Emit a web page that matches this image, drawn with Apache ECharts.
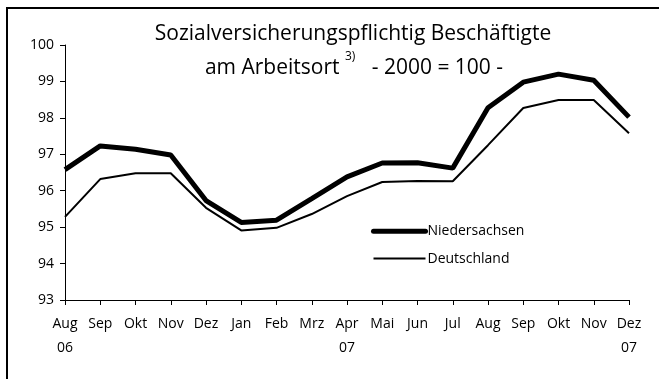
<!DOCTYPE html>
<html>
<head>
<meta charset="utf-8">
<script src="https://cdn.jsdelivr.net/npm/echarts@6/dist/echarts.min.js"></script>
<style>
  html, body { margin: 0; padding: 0; background: #fff; }
  #chart { width: 659px; height: 379px; }
</style>
</head>
<body>
<div id="chart"></div>
<script>
// Monthly index values (2000 = 100), Aug 2006 – Dec 2007
const months = ['Aug', 'Sep', 'Okt', 'Nov', 'Dez', 'Jan', 'Feb', 'Mrz', 'Apr', 'Mai', 'Jun', 'Jul', 'Aug', 'Sep', 'Okt', 'Nov', 'Dez'];
const yearLabels = ['06', '', '', '', '', '', '', '', '07', '', '', '', '', '', '', '', '07'];
const niedersachsen = [96.58, 97.23, 97.14, 96.98, 95.73, 95.13, 95.19, 95.78, 96.38, 96.76, 96.77, 96.62, 98.28, 98.98, 99.20, 99.03, 98.02];
const deutschland = [95.28, 96.32, 96.48, 96.48, 95.53, 94.91, 94.98, 95.36, 95.85, 96.24, 96.27, 96.26, 97.25, 98.27, 98.49, 98.49, 97.58];
const yTicks = { min: 93, max: 100, step: 1 };

const FONT = '"Open Sans", "Noto Sans", sans-serif';
const chart = echarts.init(document.getElementById('chart'), null, { renderer: 'canvas' });

const categories = months.map((m, i) => m + '\n' + yearLabels[i]);

chart.setOption({
  animation: false,
  backgroundColor: '#fff',
  textStyle: { fontFamily: FONT, color: '#000' },
  title: [
    {
      text: 'Sozialversicherungspflichtig Beschäftigte',
      left: 348, top: 19, textAlign: 'center',
      textStyle: { fontFamily: FONT, fontSize: 21, fontWeight: 'normal', color: '#000' }
    },
    {
      text: '{t|am Arbeitsort }{s|3)}{t|   - 2000 = 100 -}',
      left: 349, top: 46, textAlign: 'center',
      textStyle: {
        fontWeight: 'normal',
        rich: {
          t: { fontFamily: FONT, fontSize: 21, fontWeight: 'normal', color: '#000', verticalAlign: 'bottom', lineHeight: 28 },
          s: { fontFamily: FONT, fontSize: 12, fontWeight: 'normal', color: '#000', verticalAlign: 'top', lineHeight: 28, padding: [0, 0, 12, 0] }
        }
      }
    }
  ],
  graphic: [{
    type: 'rect',
    shape: { x: 7, y: 8, width: 700, height: 400 },
    style: { fill: 'none', stroke: '#000', lineWidth: 2 },
    silent: true, z: 100
  }],
  legend: {
    left: 366, top: 219, orient: 'vertical', itemGap: 13,
    itemWidth: 52, itemHeight: 18,
    itemStyle: { opacity: 0 },
    textStyle: { fontFamily: FONT, fontSize: 14, color: '#000', padding: [0, 0, 0, -3] },
    data: [
      { name: 'Niedersachsen', lineStyle: { width: 5, color: '#000', cap: 'round' } },
      { name: 'Deutschland', lineStyle: { width: 2, color: '#000' } }
    ]
  },
  grid: { left: 65, right: 30, top: 45, bottom: 79, containLabel: false },
  xAxis: {
    type: 'category',
    boundaryGap: false,
    data: categories,
    axisLine: { lineStyle: { color: '#000', width: 1 } },
    axisTick: { show: true, length: 5, inside: false, lineStyle: { color: '#000' } },
    axisLabel: { interval: 0, color: '#000', fontFamily: FONT, fontSize: 14, lineHeight: 24, margin: 12 },
    splitLine: { show: false }
  },
  yAxis: {
    type: 'value',
    min: yTicks.min, max: yTicks.max, interval: yTicks.step,
    axisLine: { show: true, lineStyle: { color: '#000', width: 1 } },
    axisTick: { show: true, length: 5, lineStyle: { color: '#000' } },
    axisLabel: { color: '#000', fontFamily: FONT, fontSize: 14, margin: 11 },
    splitLine: { show: false }
  },
  series: [
    {
      name: 'Niedersachsen', type: 'line', data: niedersachsen,
      symbol: 'none', lineStyle: { color: '#000', width: 5 }, itemStyle: { color: '#000' }
    },
    {
      name: 'Deutschland', type: 'line', data: deutschland,
      symbol: 'none', lineStyle: { color: '#000', width: 2 }, itemStyle: { color: '#000' }
    }
  ]
});
</script>
</body>
</html>
